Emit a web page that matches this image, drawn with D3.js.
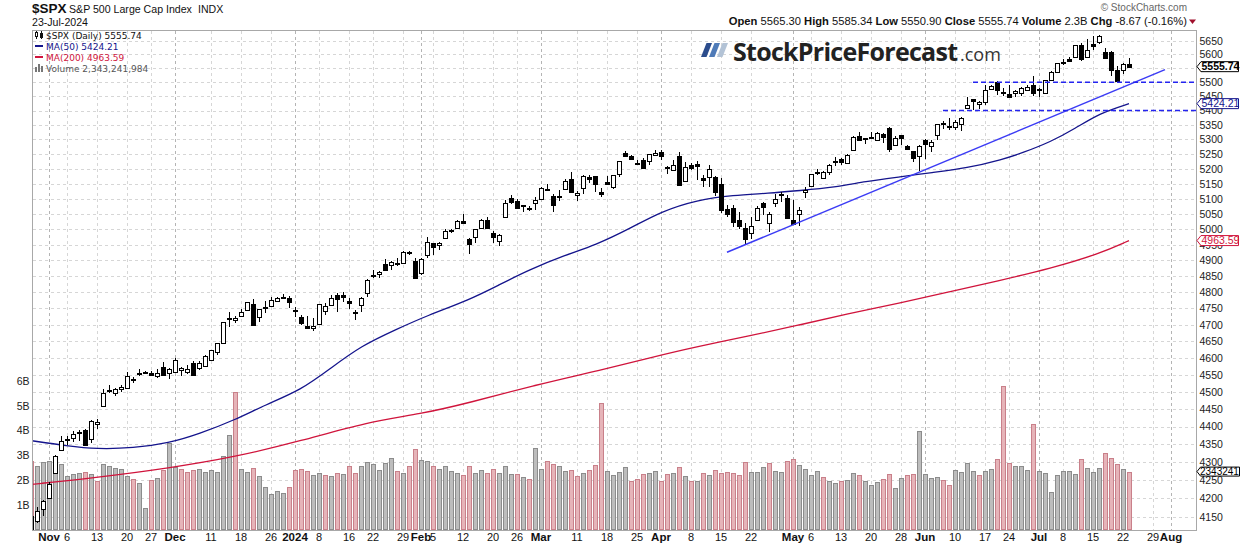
<!DOCTYPE html>
<html>
<head>
<meta charset="utf-8">
<script src="https://cdn.jsdelivr.net/npm/d3@7"></script>
<style>
  body { margin: 0; background: #fff; }
  svg { display: block; }
  text { font-family: Arial, "Liberation Sans", sans-serif; }
</style>
</head>
<body>
<svg id="chart" width="1240" height="546"></svg>
<script>
// ---- data ----
const dates = [
  "2023-10-27","2023-10-30","2023-10-31",
  "2023-11-01","2023-11-02","2023-11-03","2023-11-06","2023-11-07","2023-11-08","2023-11-09","2023-11-10","2023-11-13","2023-11-14","2023-11-15","2023-11-16","2023-11-17","2023-11-20","2023-11-21","2023-11-22","2023-11-24","2023-11-27","2023-11-28","2023-11-29","2023-11-30",
  "2023-12-01","2023-12-04","2023-12-05","2023-12-06","2023-12-07","2023-12-08","2023-12-11","2023-12-12","2023-12-13","2023-12-14","2023-12-15","2023-12-18","2023-12-19","2023-12-20","2023-12-21","2023-12-22","2023-12-26","2023-12-27","2023-12-28","2023-12-29",
  "2024-01-02","2024-01-03","2024-01-04","2024-01-05","2024-01-08","2024-01-09","2024-01-10","2024-01-11","2024-01-12","2024-01-16","2024-01-17","2024-01-18","2024-01-19","2024-01-22","2024-01-23","2024-01-24","2024-01-25","2024-01-26","2024-01-29","2024-01-30","2024-01-31",
  "2024-02-01","2024-02-02","2024-02-05","2024-02-06","2024-02-07","2024-02-08","2024-02-09","2024-02-12","2024-02-13","2024-02-14","2024-02-15","2024-02-16","2024-02-20","2024-02-21","2024-02-22","2024-02-23","2024-02-26","2024-02-27","2024-02-28","2024-02-29",
  "2024-03-01","2024-03-04","2024-03-05","2024-03-06","2024-03-07","2024-03-08","2024-03-11","2024-03-12","2024-03-13","2024-03-14","2024-03-15","2024-03-18","2024-03-19","2024-03-20","2024-03-21","2024-03-22","2024-03-25","2024-03-26","2024-03-27","2024-03-28",
  "2024-04-01","2024-04-02","2024-04-03","2024-04-04","2024-04-05","2024-04-08","2024-04-09","2024-04-10","2024-04-11","2024-04-12","2024-04-15","2024-04-16","2024-04-17","2024-04-18","2024-04-19","2024-04-22","2024-04-23","2024-04-24","2024-04-25","2024-04-26","2024-04-29","2024-04-30",
  "2024-05-01","2024-05-02","2024-05-03","2024-05-06","2024-05-07","2024-05-08","2024-05-09","2024-05-10","2024-05-13","2024-05-14","2024-05-15","2024-05-16","2024-05-17","2024-05-20","2024-05-21","2024-05-22","2024-05-23","2024-05-24","2024-05-28","2024-05-29","2024-05-30","2024-05-31",
  "2024-06-03","2024-06-04","2024-06-05","2024-06-06","2024-06-07","2024-06-10","2024-06-11","2024-06-12","2024-06-13","2024-06-14","2024-06-17","2024-06-18","2024-06-20","2024-06-21","2024-06-24","2024-06-25","2024-06-26","2024-06-27","2024-06-28",
  "2024-07-01","2024-07-02","2024-07-03","2024-07-05","2024-07-08","2024-07-09","2024-07-10","2024-07-11","2024-07-12","2024-07-15","2024-07-16","2024-07-17","2024-07-18","2024-07-19","2024-07-22","2024-07-23"
];
const futureDates = ["2024-07-24","2024-07-25","2024-07-26","2024-07-29","2024-07-30","2024-07-31","2024-08-01","2024-08-02","2024-08-05","2024-08-06","2024-08-07"];

const open = [
  4152.93,4139.39,4171.33,
  4201.27,4268.26,4334.23,4364.27,4366.21,4384.37,4391.41,4364.15,4406.66,4458.97,4505.30,4497.08,4509.55,4511.70,4538.77,4553.04,4555.84,4554.86,4545.55,4571.84,4554.87,
  4559.43,4564.37,4557.25,4586.23,4568.84,4576.20,4593.39,4618.30,4646.20,4721.04,4714.23,4725.58,4743.72,4764.73,4724.29,4753.92,4758.86,4773.45,4786.44,4782.88,
  4745.20,4725.07,4697.42,4690.57,4703.70,4741.93,4759.94,4792.13,4791.18,4772.35,4739.13,4760.10,4796.28,4853.42,4856.80,4888.56,4886.66,4888.91,4892.95,4925.89,4899.19,
  4861.11,4916.06,4957.19,4950.16,4973.05,4995.16,5004.17,5026.83,4967.94,4976.44,5003.14,5031.13,4989.32,4963.03,5038.83,5100.92,5093.00,5074.60,5067.20,5085.36,
  5098.51,5130.99,5110.52,5108.03,5132.38,5164.46,5111.96,5134.30,5173.49,5175.14,5123.31,5154.77,5139.09,5181.69,5253.43,5242.48,5219.52,5228.85,5226.31,5247.95,
  5257.97,5204.29,5194.37,5244.05,5158.95,5211.37,5217.03,5167.88,5172.95,5171.51,5149.67,5064.59,5068.97,5031.52,5005.44,4987.33,5028.85,5084.86,5019.88,5084.65,5114.13,5103.78,
  5029.03,5049.32,5122.78,5142.42,5187.20,5168.98,5189.03,5225.49,5233.08,5221.10,5263.26,5310.07,5303.10,5305.35,5298.69,5319.28,5340.26,5281.45,5315.91,5278.73,5259.77,5243.21,
  5297.15,5278.24,5314.48,5357.80,5343.81,5341.22,5353.00,5409.13,5441.93,5424.08,5431.11,5476.15,5499.99,5466.77,5459.58,5460.73,5460.71,5473.59,5488.48,
  5471.08,5461.84,5507.44,5537.91,5572.75,5584.24,5591.26,5635.21,5590.76,5638.16,5644.09,5610.07,5608.56,5543.37,5544.88,5565.30
];
const high = [
  4156.70,4177.47,4195.55,
  4245.64,4319.72,4373.62,4372.21,4386.26,4391.20,4393.40,4418.03,4421.76,4508.67,4521.17,4511.99,4520.12,4557.11,4542.14,4568.43,4560.31,4561.40,4568.14,4587.64,4569.89,
  4599.39,4572.37,4578.56,4590.74,4590.92,4609.23,4623.18,4643.93,4709.69,4738.57,4725.53,4749.52,4768.69,4778.01,4748.71,4772.94,4784.72,4785.39,4793.30,4788.43,
  4754.33,4729.29,4726.78,4721.49,4764.54,4765.47,4790.80,4798.50,4802.40,4782.34,4744.23,4785.79,4842.07,4868.41,4866.48,4903.68,4898.15,4906.69,4929.31,4931.09,4906.75,
  4906.97,4975.29,4957.19,4957.77,4999.89,5000.40,5030.06,5048.39,4971.30,5002.52,5032.72,5038.70,4993.71,4983.21,5094.39,5111.06,5097.66,5080.69,5077.37,5104.99,
  5140.33,5149.67,5114.54,5127.97,5165.62,5189.26,5124.66,5179.87,5179.14,5176.85,5136.86,5175.60,5180.31,5226.19,5261.10,5246.09,5229.09,5235.16,5249.26,5264.85,
  5263.95,5208.34,5228.75,5256.59,5222.18,5219.57,5224.81,5178.43,5211.78,5175.03,5168.43,5079.84,5077.96,5056.66,5019.02,5038.84,5076.12,5089.48,5057.75,5114.62,5123.49,5110.83,
  5096.12,5073.21,5139.12,5181.00,5200.23,5191.95,5215.30,5239.66,5237.26,5250.37,5311.76,5325.49,5305.45,5325.32,5324.32,5323.18,5341.88,5311.65,5315.91,5282.27,5260.21,5280.33,
  5302.11,5298.80,5354.16,5362.35,5375.08,5365.79,5375.95,5447.25,5441.93,5432.39,5488.50,5490.38,5505.53,5478.31,5490.81,5472.88,5483.14,5490.81,5523.64,
  5479.55,5509.69,5539.27,5570.33,5583.11,5590.75,5635.39,5642.45,5655.56,5666.94,5669.67,5622.49,5614.05,5557.50,5570.36,5585.34
];
const low = [
  4103.78,4132.94,4153.12,
  4197.74,4268.26,4334.23,4347.53,4355.41,4359.76,4343.94,4353.34,4393.82,4458.97,4495.31,4487.83,4499.66,4510.36,4525.51,4545.69,4552.80,4545.88,4540.51,4547.15,4537.24,
  4554.71,4546.72,4551.68,4546.50,4565.22,4574.06,4593.39,4608.09,4643.23,4694.34,4704.69,4725.58,4743.72,4697.82,4708.35,4736.77,4758.45,4768.90,4780.98,4751.99,
  4722.67,4699.71,4687.53,4682.11,4699.82,4730.35,4756.20,4739.58,4768.98,4747.12,4714.82,4740.57,4785.87,4844.05,4844.37,4865.94,4869.34,4881.47,4887.40,4916.27,4845.15,
  4853.52,4907.99,4918.09,4934.88,4969.82,4987.09,5000.34,5016.18,4920.31,4956.45,4999.44,4999.52,4955.02,4946.00,5038.83,5081.46,5068.91,5057.29,5058.35,5061.89,
  5094.16,5127.18,5056.82,5092.22,5128.21,5117.50,5091.14,5114.48,5151.88,5123.30,5104.35,5145.47,5131.59,5171.55,5240.66,5229.87,5216.09,5203.42,5213.92,5245.82,
  5229.20,5184.05,5194.37,5146.06,5157.21,5197.35,5160.78,5138.70,5138.77,5107.94,5052.47,5039.83,5007.25,5001.89,4953.56,4969.40,5027.96,5047.02,4990.58,5073.14,5088.65,5035.31,
  5013.45,5011.05,5101.22,5142.42,5178.96,5165.86,5180.41,5209.68,5211.16,5217.98,5263.26,5296.19,5283.59,5302.40,5297.87,5286.01,5256.93,5278.39,5280.89,5262.70,5222.10,5191.68,
  5234.32,5257.63,5297.64,5335.36,5331.33,5331.52,5327.25,5409.13,5402.51,5403.75,5420.40,5471.32,5455.56,5452.03,5447.59,5446.56,5451.87,5467.54,5451.12,
  5446.53,5458.43,5507.42,5531.63,5562.51,5574.57,5586.44,5576.53,5590.44,5614.75,5639.02,5584.81,5522.81,5497.04,5531.03,5550.90
];
const close = [
  4117.37,4166.82,4193.80,
  4237.86,4317.78,4358.34,4365.98,4378.38,4382.78,4347.35,4415.24,4411.55,4495.70,4502.88,4508.24,4514.02,4547.38,4538.19,4556.62,4559.34,4550.43,4554.89,4550.58,4567.80,
  4594.63,4569.78,4567.18,4549.34,4585.59,4604.37,4622.44,4643.70,4707.09,4719.55,4719.19,4740.56,4768.37,4698.35,4746.75,4754.63,4774.75,4781.58,4783.35,4769.83,
  4742.83,4704.81,4688.68,4697.24,4763.54,4756.50,4783.45,4780.24,4783.83,4765.98,4739.21,4780.94,4839.81,4850.43,4864.60,4868.55,4894.16,4890.97,4927.93,4924.97,4845.65,
  4906.19,4958.61,4942.81,4954.23,4995.06,4997.91,5026.61,5021.84,4953.17,5000.62,5029.73,5005.57,4975.51,4981.80,5087.03,5088.80,5069.53,5078.18,5069.76,5096.27,
  5137.08,5130.95,5078.65,5104.76,5157.36,5123.69,5117.94,5175.27,5165.31,5150.48,5117.09,5149.42,5178.51,5224.62,5241.53,5234.18,5218.19,5203.58,5248.49,5254.35,
  5243.77,5205.81,5211.49,5147.21,5204.34,5202.39,5209.91,5160.64,5199.06,5123.41,5061.82,5051.41,5022.21,5011.12,4967.23,5010.60,5070.55,5071.63,5048.42,5099.96,5116.17,5035.69,
  5018.39,5064.20,5127.79,5180.74,5187.70,5187.67,5214.08,5222.68,5221.42,5246.68,5308.15,5297.10,5303.27,5308.13,5321.41,5307.01,5267.84,5304.72,5306.04,5266.95,5235.48,5277.51,
  5283.40,5291.34,5354.03,5352.96,5346.99,5360.79,5375.32,5421.03,5433.74,5431.60,5473.23,5487.03,5473.17,5464.62,5447.87,5469.30,5477.90,5482.87,5460.48,
  5475.09,5509.01,5537.02,5567.19,5572.85,5576.98,5633.91,5584.54,5615.35,5631.22,5667.20,5588.27,5544.59,5505.00,5564.41,5555.74
];
const prevClose = 4137.23;
// volume, billions of shares
const volume = [
  2.77,2.57,2.72,
  2.77,2.95,2.64,2.17,2.23,2.27,2.32,2.23,1.96,2.64,2.57,2.49,2.43,2.17,2.03,1.87,0.87,2.00,2.07,2.42,3.50,
  2.53,2.45,2.33,2.40,2.45,2.33,2.40,2.33,2.97,3.83,5.57,2.45,2.33,2.49,2.17,1.73,1.43,1.57,1.47,1.73,
  2.42,2.45,2.37,2.20,2.28,2.20,2.17,2.28,2.24,2.57,2.28,2.57,2.72,2.65,2.40,2.68,2.88,2.37,2.27,2.57,3.25,
  2.81,2.77,2.57,2.45,2.57,2.37,2.27,2.19,2.57,2.27,2.41,2.27,2.45,2.27,2.57,2.23,2.23,2.11,2.03,3.28,
  2.45,2.77,2.64,2.57,2.37,2.41,2.17,2.27,2.41,2.60,5.10,2.37,2.19,2.32,2.52,1.98,2.06,2.23,2.27,2.37,
  1.96,2.23,2.27,2.52,2.17,1.98,1.98,2.27,2.19,2.41,2.27,2.32,2.27,2.19,2.72,2.32,2.32,2.52,2.68,2.37,2.32,2.77,
  2.85,2.61,2.45,2.19,2.37,2.11,1.95,1.87,1.95,1.99,2.27,2.19,1.95,1.79,1.91,2.03,2.23,1.70,2.07,2.19,2.23,4.00,
  2.23,2.07,2.11,1.99,1.79,2.41,2.32,2.68,2.37,2.19,2.37,2.45,2.85,5.79,2.68,2.57,2.57,2.41,4.26,
  2.37,2.27,1.54,2.19,2.37,2.37,2.23,2.85,2.47,2.32,2.47,3.08,2.88,2.64,2.45,2.343
];

const ma50Dates = ["2023-10-27","2023-11-06","2023-11-13","2023-11-21","2023-11-30","2023-12-07","2023-12-15","2023-12-22","2024-01-03","2024-01-10","2024-01-18","2024-01-26","2024-02-02","2024-02-13","2024-02-21","2024-02-28","2024-03-07","2024-03-14","2024-03-22","2024-04-01","2024-04-09","2024-04-17","2024-04-25","2024-05-02","2024-05-10","2024-05-17","2024-05-28","2024-06-04","2024-06-12","2024-06-21","2024-06-26","2024-07-03","2024-07-10","2024-07-16","2024-07-23"];
const ma50Values = [4360,4345,4336,4339,4353,4379,4419,4462,4505,4570,4636,4687,4728,4776,4823,4870,4917,4948,5004,5058,5096,5112,5118,5127,5138,5157,5173,5187,5202,5232,5252,5292,5337,5390,5424.21];

const ma200Dates = ["2023-10-27","2023-11-13","2023-11-30","2023-12-15","2024-01-03","2024-01-19","2024-02-01","2024-02-13","2024-02-29","2024-03-15","2024-03-27","2024-04-09","2024-04-22","2024-05-02","2024-05-14","2024-05-28","2024-06-07","2024-06-20","2024-07-03","2024-07-16","2024-07-23"];
const ma200Values = [4238,4257,4283,4314,4359,4413,4436,4468,4520,4564,4600,4634,4667,4699,4733,4767,4801,4835,4875,4921,4963.59];

const trendDates = ["2024-04-16","2024-07-31"];
const trendValues = [4926,5545];
const levelStart = ["2024-06-13","2024-06-06"];
const levelValues = [5500,5400];

const priceTicks = [4150,4200,4250,4300,4350,4400,4450,4500,4550,4600,4650,4700,4750,4800,4850,4900,4950,5000,5050,5100,5150,5200,5250,5300,5350,5400,5450,5500,5550,5600,5650];
const volumeTicks = [1,2,3,4,5,6];

const axisDates = ["2023-11-01","2023-11-06","2023-11-13","2023-11-20","2023-11-27","2023-12-01","2023-12-11","2023-12-18","2023-12-26","2024-01-02","2024-01-08","2024-01-16","2024-01-22","2024-01-29","2024-02-01","2024-02-05","2024-02-12","2024-02-20","2024-02-26","2024-03-01","2024-03-11","2024-03-18","2024-03-25","2024-04-01","2024-04-08","2024-04-15","2024-04-22","2024-05-01","2024-05-06","2024-05-13","2024-05-20","2024-05-28","2024-06-03","2024-06-10","2024-06-17","2024-06-24","2024-07-01","2024-07-08","2024-07-15","2024-07-22","2024-07-29","2024-08-01"];
const axisLabels = ["Nov","6","13","20","27","Dec","11","18","26","2024","8","16","22","29","Feb","5","12","20","26","Mar","11","18","25","Apr","8","15","22","May","6","13","20","28","Jun","10","17","24","Jul","8","15","22","29","Aug"];
const boldLabels = ["Nov","Dec","2024","Feb","Mar","Apr","May","Jun","Jul","Aug"];

// ---- layout ----
const plot = { left: 32.5, right: 1196.5, top: 30.5, bottom: 530 };
const svg = d3.select("#chart");

const x = d3.scaleBand().domain(dates.concat(futureDates)).range([28, 1198]);
const cx = (d) => x(d) + x.bandwidth() / 2;
const y = d3.scaleLog().domain([4150, 5650]).range([516.8, 40.7]);
const yv = d3.scaleLinear().domain([0, 6]).range([529.7, 380.9]);

const bars = dates.map((d, i) => ({
  date: d, o: open[i], h: high[i], l: low[i], c: close[i], v: volume[i],
  down: close[i] < (i === 0 ? prevClose : close[i - 1]),
}));

svg.append("defs").append("clipPath").attr("id", "clip")
  .append("rect")
  .attr("x", plot.left).attr("y", plot.top)
  .attr("width", plot.right - plot.left).attr("height", plot.bottom - plot.top);

// grid
const grid = svg.append("g").attr("shape-rendering", "crispEdges");
grid.selectAll("line.h").data(priceTicks).join("line")
  .attr("class", "h")
  .attr("x1", plot.left).attr("x2", plot.right)
  .attr("y1", (d) => Math.round(y(d)) + 0.5).attr("y2", (d) => Math.round(y(d)) + 0.5)
  .attr("stroke", "#d6d6d6").attr("stroke-dasharray", "3,3");
grid.selectAll("line.v").data(axisDates).join("line")
  .attr("class", "v")
  .attr("x1", (d) => cx(d) + 0.5).attr("x2", (d) => cx(d) + 0.5)
  .attr("y1", plot.top).attr("y2", plot.bottom)
  .attr("stroke", (d, i) => boldLabels.includes(axisLabels[i]) ? "#b4b4b4" : "#d6d6d6")
  .attr("stroke-dasharray", "3,3");

// logo
const logo = svg.append("g");
const slashColors = ["#2b4c8c", "#4f7bb8", "#b3c3d6"];
logo.selectAll("polygon").data(slashColors).join("polygon")
  .attr("points", (d, i) => {
    const o = 701 + i * 8;
    return `${o},57 ${o + 5.5},57 ${o + 11},43 ${o + 5.5},43`;
  })
  .attr("fill", (d) => d);
logo.append("text")
  .attr("x", 733).attr("y", 61)
  .attr("textLength", 225).attr("lengthAdjust", "spacing")
  .style("font-family", "'Open Sans', sans-serif").style("font-weight", 700)
  .style("font-size", "25px").attr("fill", "#222")
  .text("StockPriceForecast");
logo.append("text")
  .attr("x", 960).attr("y", 61)
  .style("font-family", "'Open Sans', sans-serif")
  .style("font-size", "18px").attr("fill", "#333")
  .text(".com");

const body = svg.append("g").attr("clip-path", "url(#clip)");

// volume
body.append("g").attr("shape-rendering", "crispEdges")
  .selectAll("rect").data(bars).join("rect")
  .attr("x", (d) => cx(d.date) - 1.5)
  .attr("y", (d) => Math.round(yv(d.v)) + 0.5)
  .attr("width", 4)
  .attr("height", (d) => yv(0) - Math.round(yv(d.v)) - 0.5)
  .attr("fill", (d) => d.down ? "#e6b4b9" : "#bdbdbd")
  .attr("stroke", (d) => d.down ? "#c9808a" : "#8c8c8c");

// moving averages
const line = d3.line().x((d) => cx(d[0])).y((d) => y(d[1])).curve(d3.curveBasis);
body.append("path")
  .datum(d3.zip(ma200Dates, ma200Values))
  .attr("d", line).attr("fill", "none")
  .attr("stroke", "#d0143c").attr("stroke-width", 1.3);
body.append("path")
  .datum(d3.zip(ma50Dates, ma50Values))
  .attr("d", line).attr("fill", "none")
  .attr("stroke", "#14148c").attr("stroke-width", 1.3);

// candles
const candles = body.append("g").attr("shape-rendering", "crispEdges");
candles.selectAll("line").data(bars).join("line")
  .attr("x1", (d) => cx(d.date) + 0.5).attr("x2", (d) => cx(d.date) + 0.5)
  .attr("y1", (d) => y(d.h)).attr("y2", (d) => y(d.l))
  .attr("stroke", "#000");
candles.selectAll("rect").data(bars).join("rect")
  .attr("x", (d) => cx(d.date) - 1.5)
  .attr("y", (d) => Math.round(y(Math.max(d.o, d.c))) + 0.5)
  .attr("width", 4)
  .attr("height", (d) => Math.max(1, Math.round(y(Math.min(d.o, d.c))) - Math.round(y(Math.max(d.o, d.c)))))
  .attr("fill", (d) => d.c >= d.o ? "#fff" : "#000")
  .attr("stroke", "#000");

// annotations
body.append("line")
  .attr("x1", cx(trendDates[0])).attr("y1", y(trendValues[0]))
  .attr("x2", cx(trendDates[1])).attr("y2", y(trendValues[1]))
  .attr("stroke", "#3b3bf5").attr("stroke-width", 1.5);
body.selectAll("line.level").data(levelValues).join("line")
  .attr("class", "level")
  .attr("x1", (d, i) => cx(levelStart[i])).attr("x2", plot.right)
  .attr("y1", (d) => y(d)).attr("y2", (d) => y(d))
  .attr("stroke", "#2424f0").attr("stroke-width", 1.4).attr("stroke-dasharray", "5,3");

// frame
svg.append("rect")
  .attr("x", plot.left).attr("y", plot.top)
  .attr("width", plot.right - plot.left).attr("height", plot.bottom - plot.top + 0.5)
  .attr("fill", "none").attr("stroke", "#a8a8a8").attr("shape-rendering", "crispEdges");

// axes
const yAxis = svg.append("g")
  .attr("transform", `translate(${plot.right},0)`)
  .call(d3.axisRight(y).tickValues(priceTicks).tickFormat(d3.format("d")).tickSize(0).tickPadding(3));
yAxis.select(".domain").remove();
yAxis.selectAll("text").style("font-size", "10.5px").attr("fill", "#222");

const vAxis = svg.append("g")
  .attr("transform", `translate(${plot.left - 1},0)`)
  .call(d3.axisLeft(yv).tickValues(volumeTicks).tickFormat((d) => d + "B").tickSize(0).tickPadding(2));
vAxis.select(".domain").remove();
vAxis.selectAll("text").style("font-size", "10.5px").attr("fill", "#222");

const xAxis = svg.append("g")
  .attr("transform", `translate(0,${plot.bottom})`)
  .call(d3.axisBottom(x).tickValues(axisDates).tickFormat((d, i) => axisLabels[i]).tickSize(0).tickPadding(3));
xAxis.select(".domain").remove();
xAxis.selectAll("text")
  .style("font-size", (d, i) => boldLabels.includes(axisLabels[i]) ? "11.5px" : "11px")
  .style("font-weight", (d, i) => boldLabels.includes(axisLabels[i]) ? "bold" : "normal")
  .attr("fill", "#111");

// value tags on the price axis
const tags = [
  { text: "5555.74", pos: y(close[close.length - 1]), color: "#000", bold: true, size: 10.5 },
  { text: "5424.21", pos: y(ma50Values[ma50Values.length - 1]), color: "#14148c", bold: false, size: 10.5 },
  { text: "4963.59", pos: y(ma200Values[ma200Values.length - 1]), color: "#d0143c", bold: false, size: 10.5 },
  { text: "2343241", pos: yv(volume[volume.length - 1]), color: "#000", bold: false, size: 10 },
];
const tag = svg.append("g").selectAll("g").data(tags).join("g")
  .attr("transform", (d) => `translate(${plot.right},${d.pos})`);
tag.append("path")
  .attr("d", (d) => d.size < 10.5 ? "M0.5,0 L4,-4.5 L43,-4.5 L43,4.5 L4,4.5 Z" : "M0.5,0 L4.5,-5 L42,-5 L42,5 L4.5,5 Z")
  .attr("fill", "#fff").attr("stroke", (d) => d.color).attr("stroke-width", 1);
tag.append("text")
  .attr("x", (d) => d.size < 10.5 ? 3.5 : 5).attr("y", 3.8)
  .style("font-size", (d) => d.size + "px").style("font-weight", (d) => d.bold ? "bold" : "normal")
  .attr("fill", (d) => d.color)
  .text((d) => d.text);

// header
const head = svg.append("g");
head.append("text").attr("x", 32).attr("y", 13)
  .style("font-size", "13.5px").style("font-weight", "bold").attr("fill", "#111").text("$SPX");
head.append("text").attr("x", 69).attr("y", 12.5)
  .style("font-size", "10.6px").attr("fill", "#111").text("S&P 500 Large Cap Index");
head.append("text").attr("x", 198).attr("y", 12.5)
  .style("font-size", "10.6px").attr("fill", "#111").text("INDX");
head.append("text").attr("x", 32).attr("y", 25.5)
  .style("font-size", "10.6px").attr("fill", "#111").text("23-Jul-2024");
head.append("text").attr("x", 1187).attr("y", 11).attr("text-anchor", "end")
  .style("font-size", "10px").attr("fill", "#666").text("\u00a9 StockCharts.com");

const stats = [["Open", "5565.30"], ["High", "5585.34"], ["Low", "5550.90"], ["Close", "5555.74"], ["Volume", "2.3B"], ["Chg", "-8.67 (-0.16%)"]];
const statText = head.append("text").attr("x", 1187).attr("y", 25).attr("text-anchor", "end")
  .style("font-size", "11.2px").attr("fill", "#111");
stats.forEach(([k, v], i) => {
  statText.append("tspan").style("font-weight", "bold").text((i ? "  " : "") + k + " ");
  statText.append("tspan").text(v);
});
head.append("path").attr("d", "M1189,19.5 L1196,19.5 L1192.5,24 Z").attr("fill", "#a0102c");

// legend
const legend = svg.append("g");
const legendRows = [
  { text: "$SPX (Daily) 5555.74", color: "#111", y: 38.5 },
  { text: "MA(50) 5424.21", color: "#14148c", y: 49.5 },
  { text: "MA(200) 4963.59", color: "#d0143c", y: 60.5 },
  { text: "Volume 2,343,241,984", color: "#555", y: 71.5 },
];
legend.selectAll("text").data(legendRows).join("text")
  .attr("x", 46).attr("y", (d) => d.y)
  .style("font-family", "'DejaVu Sans', Verdana, sans-serif")
  .style("font-size", "9px").attr("fill", (d) => d.color)
  .text((d) => d.text);
// icons
legend.append("g").attr("shape-rendering", "crispEdges").call((g) => {
  g.append("line").attr("x1", 36.5).attr("x2", 36.5).attr("y1", 31).attr("y2", 39).attr("stroke", "#111");
  g.append("rect").attr("x", 35.5).attr("y", 32.5).attr("width", 2).attr("height", 4).attr("fill", "#fff").attr("stroke", "#111");
  g.append("line").attr("x1", 41.5).attr("x2", 41.5).attr("y1", 31).attr("y2", 39).attr("stroke", "#111");
  g.append("rect").attr("x", 40.5).attr("y", 33.5).attr("width", 2).attr("height", 4).attr("fill", "#111").attr("stroke", "#111");
  g.append("rect").attr("x", 35).attr("y", 45).attr("width", 8).attr("height", 2).attr("fill", "#14148c");
  g.append("rect").attr("x", 35).attr("y", 56).attr("width", 8).attr("height", 2).attr("fill", "#d0143c");
  g.append("rect").attr("x", 35).attr("y", 67).attr("width", 2).attr("height", 5).attr("fill", "#777");
  g.append("rect").attr("x", 38).attr("y", 64).attr("width", 2).attr("height", 8).attr("fill", "#777");
  g.append("rect").attr("x", 41).attr("y", 66).attr("width", 2).attr("height", 6).attr("fill", "#777");
});
</script>
</body>
</html>
